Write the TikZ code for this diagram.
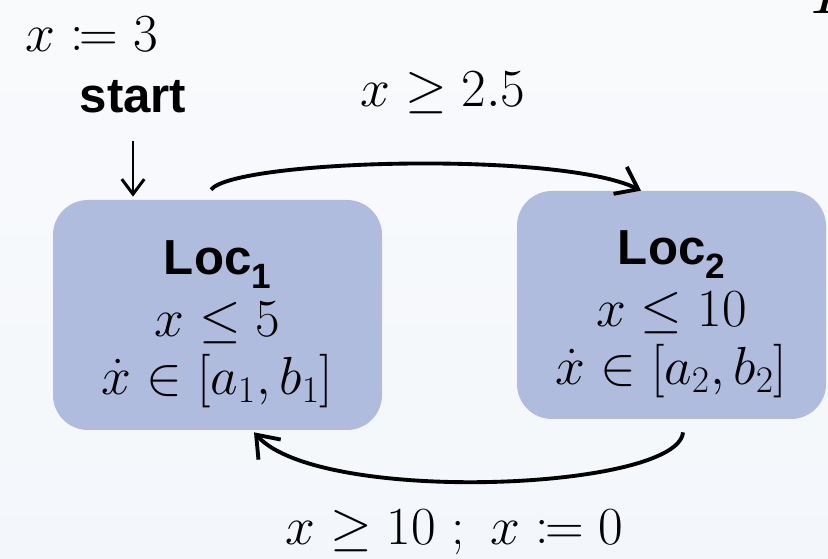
\RequirePackage{fix-cm}
\documentclass[tikz,border=0pt]{standalone}
\usepackage{amsmath,amssymb,mathtools}
\usepackage{fontspec}
\newfontfamily\labelfont{Liberation Sans}
\usetikzlibrary{arrows.meta,positioning}
\definecolor{locfill}{RGB}{175,188,221}
\definecolor{bgtop}{RGB}{249,250,252}
\definecolor{bgbot}{RGB}{243,247,251}
\newcommand{\locname}[1]{\rule{0pt}{30pt}{\labelfont\bfseries\fontsize{28}{33}\selectfont Loc\raisebox{-0.28em}{\fontsize{20}{20}\selectfont #1}}}
\begin{document}
\begin{tikzpicture}[
  loc/.style={fill=locfill,rounded corners=7mm,align=center,font=\fontsize{30.5}{33}\selectfont},
  lbl/.style={font=\fontsize{30.5}{31}\selectfont,inner sep=0pt},
  arr/.style={-{Straight Barb[length=4mm,width=6mm]},line width=2.2pt},
  startarr/.style={-{Straight Barb[length=3mm,width=4.5mm]},line width=1.7pt}]
\useasboundingbox (0,0) rectangle (16.56,-11.18);
\shade[top color=bgtop,bottom color=bgbot] (0,0) rectangle (16.56,-11.18);
\node[loc,minimum width=6.58cm,minimum height=4.6cm] (loc1) at (4.35,-6.30) {\locname{1}\\[2pt] $x \leq 5$\\ $\dot{x} \in [a_1, b_1]$};
\node[loc,minimum width=6.18cm,minimum height=4.56cm] (loc2) at (13.43,-6.10) {\locname{2}\\[2pt] $x \leq 10$\\ $\dot{x} \in [a_2, b_2]$};
\node[lbl,anchor=base west] (init) at (0.5,-1.04) {$x \coloneqq 3$};
\node[anchor=base,inner sep=0pt,font=\labelfont\bfseries\fontsize{28}{30}\selectfont] (start) at (2.66,-2.26) {start};
\draw[startarr] ([yshift=-0.54cm]start.south) -- ([yshift=0.06cm]start.south |- loc1.north);
\draw[arr] ([shift={(-0.13,0.2)}]loc1.north) .. controls +(0.48,0.6) and +(-1.62,0.8) .. ([shift={(-0.61,0)}]loc2.north);
\node[lbl,anchor=base west] (guard) at (7.2,-2.14) {$x \geq 2.5$};
\draw[arr] ([shift={(0.23,-0.26)}]loc2.south) .. controls +(-0.1,-1.16) and +(1.32,-1.46) .. ([shift={(0.73,-0.04)}]loc1.south);
\node[lbl,anchor=base west] (reset) at (5.7,-10.9) {$x \geq 10\ ;\ x \coloneqq 0$};
\node[lbl,anchor=base west,font=\fontsize{40}{40}\selectfont] (cut) at (16.2,-0.27) {$L$};
\end{tikzpicture}
\end{document}
